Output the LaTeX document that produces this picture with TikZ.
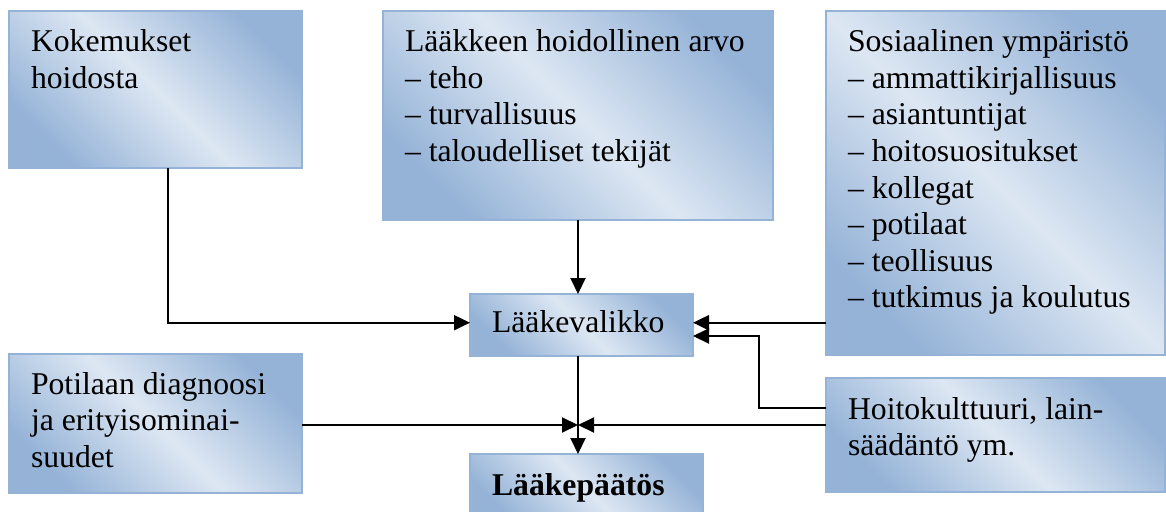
\documentclass[tikz,border=0pt]{standalone}
\usepackage{fontspec}
\setmainfont{Liberation Serif}
\usetikzlibrary{arrows.meta,calc}
\definecolor{bdark}{RGB}{149,179,215}
\definecolor{blight}{RGB}{221,231,243}
\definecolor{bborder}{RGB}{149,179,215}
\newcommand\boxlines[1]{\vtop{\halign{##\hfil\cr#1\crcr}}}
\tikzset{
  fbox/.style={draw=bborder, line width=1.5pt, inner sep=0pt, outer sep=0pt,
    anchor=north west, rectangle,
    top color=bdark, bottom color=bdark, middle color=blight, shading angle=-45},
  txt/.style={anchor=base west, inner sep=0pt, outer sep=0pt,
    font=\fontsize{31.7}{36.5}\selectfont},
  arr/.style={line width=2pt, -{Triangle[length=16pt,width=15pt]}},
}
\begin{document}
\begin{tikzpicture}[x=1pt,y=-1pt]
\useasboundingbox (0,0) rectangle (1166,511);
\clip (0,0) rectangle (1166,511);
% boxes
\node[fbox, minimum width=293pt, minimum height=157pt] (A) at (9,11) {};
\node[fbox, minimum width=390pt, minimum height=209pt] (B) at (383,11) {};
\node[fbox, minimum width=339pt, minimum height=344pt] (C) at (826,11) {};
\node[fbox, minimum width=223pt, minimum height=62pt] (D) at (470,294) {};
\node[fbox, minimum width=293pt, minimum height=139pt] (E) at (9,354) {};
\node[fbox, minimum width=339pt, minimum height=114pt] (F) at (826,378) {};
\node[fbox, minimum width=233pt, minimum height=70pt] (G) at (470,454) {};
% texts
\node[txt] (At) at ([xshift=22pt,yshift=-41pt]A.north west) {\boxlines{Kokemukset\cr hoidosta}};
\node[txt] (Bt) at ([xshift=22pt,yshift=-41pt]B.north west) {\boxlines{Lääkkeen hoidollinen arvo\cr – teho\cr – turvallisuus\cr – taloudelliset tekijät}};
\node[txt] (Ct) at ([xshift=22pt,yshift=-41pt]C.north west) {\boxlines{Sosiaalinen ympäristö\cr – ammattikirjallisuus\cr – asiantuntijat\cr – hoitosuositukset\cr – kollegat\cr – potilaat\cr – teollisuus\cr – tutkimus ja koulutus}};
\node[txt] (Dt) at ([xshift=22pt,yshift=-38pt]D.north west) {Lääkevalikko};
\node[txt] (Et) at ([xshift=22pt,yshift=-40pt]E.north west) {\boxlines{Potilaan diagnoosi\cr ja erityisominai-\cr suudet}};
\node[txt] (Ft) at ([xshift=22pt,yshift=-41pt]F.north west) {\boxlines{Hoitokulttuuri, lain-\cr säädäntö ym.}};
\node[txt] (Gt) at ([xshift=22pt,yshift=-41pt]G.north west) {\bfseries Lääkepäätös};
% connectors
\coordinate (J) at (578,425);
\draw[arr] ([xshift=12.5pt]A.south) |- ([yshift=2.3pt]D.west);
\draw[arr] (B.south -| J) -- (D.north -| J);
\draw[arr] ([yshift=2.3pt]D.east -| C.west) -- ([yshift=2.3pt]D.east);
\draw[arr] ([yshift=27pt]F.west) -- ++(-67,0) |- ([yshift=-11pt]D.east);
\draw[arr] (E.east |- J) -- (J);
\draw[arr] (F.west |- J) -- (J);
\draw[arr] (D.south -| J) -- (G.north -| J);
\end{tikzpicture}
\end{document}
